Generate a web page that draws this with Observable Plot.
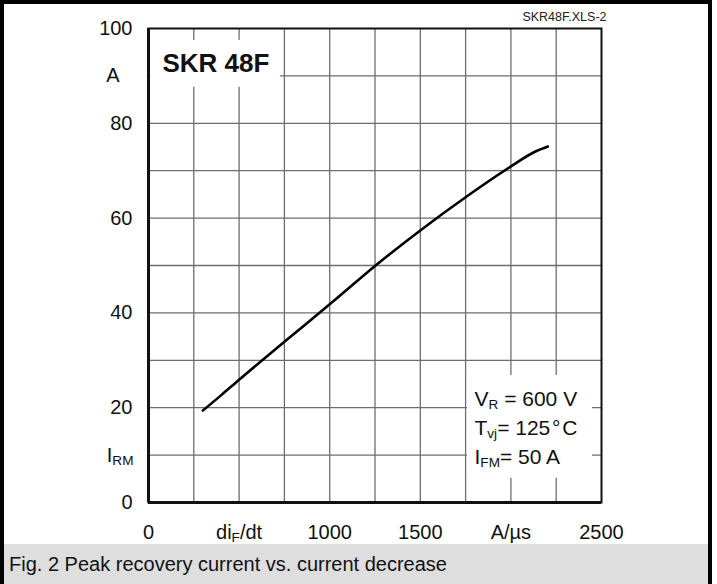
<!DOCTYPE html>
<html>
<head>
<meta charset="utf-8">
<script src="https://cdn.jsdelivr.net/npm/d3@7"></script>
<script src="https://cdn.jsdelivr.net/npm/@observablehq/plot@0.6"></script>
<style>
  html, body { margin: 0; padding: 0; background: #fff; }
  #wrap { position: relative; width: 717px; height: 584px; overflow: hidden; background: #fff;
          font-family: "Liberation Sans", Arial, sans-serif; }
  #chart { position: absolute; left: 0; top: 0; }
  .bd { position: absolute; background: #000; z-index: 5; }
  #caption { position: absolute; left: 4px; top: 544px; width: 704px; height: 40px; background: #dedede;
             font-size: 20px; line-height: 40px; color: #111; padding-left: 5px; box-sizing: border-box; }
</style>
</head>
<body>
<div id="wrap">
  <div id="chart"></div>
  <div id="caption">Fig. 2 Peak recovery current vs. current decrease</div>
  <div class="bd" style="left:0;top:0;width:4px;height:584px"></div>
  <div class="bd" style="left:0;top:0;width:712px;height:4px"></div>
  <div class="bd" style="left:708px;top:0;width:4px;height:584px"></div>
</div>
<script>
// ---- data ----
const diF = [300, 400, 500, 750, 1000, 1250, 1500, 1750, 2000, 2127, 2204];   // A/µs
const irm = [19.4, 22.6, 25.9, 33.9, 41.8, 49.9, 57.4, 64.4, 70.9, 73.9, 75.1]; // A

const xTicks = [0, 500, 1000, 1500, 2000, 2500];
const xTickLabels = ["0", "di{F}/dt", "1000", "1500", "A/µs", "2500"];
const yTicks = [0, 20, 40, 60, 80, 100];
const xGrid = [250, 500, 750, 1000, 1250, 1500, 1750, 2000, 2250];
const yGrid = [10, 20, 30, 40, 50, 60, 70, 80, 90];

const deviceName = "SKR 48F";
const fileTag = "SKR48F.XLS-2";
const conditions = ["V{R} = 600 V", "T{vj}= 125\u200a°\u200aC", "I{FM}= 50 A"];

const curve = diF.map((v, i) => ({v, i: irm[i]}));

const chart = Plot.plot({
  width: 717,
  height: 544,
  marginLeft: 148,
  marginRight: 116,
  marginTop: 28,
  marginBottom: 42,
  x: {domain: [0, 2500]},
  y: {domain: [0, 100]},
  style: {fontFamily: "'Liberation Sans', Arial, sans-serif", fontSize: "20px", color: "#111", background: "#fff"},
  marks: [
    Plot.gridX(xGrid, {stroke: "#6e6e6e", strokeOpacity: 1, strokeWidth: 1.3}),
    Plot.gridY(yGrid, {stroke: "#6e6e6e", strokeOpacity: 1, strokeWidth: 1.3}),
    // white backing boxes of the annotations
    Plot.rect([0], {x1: 12, x2: 728, y1: 87.6, y2: 97.5, fill: "#fff"}),
    Plot.rect([0], {x1: 1760, x2: 2450, y1: 5.1, y2: 26.8, fill: "#fff"}),
    Plot.line(curve, {x: "v", y: "i", curve: "monotone-x", stroke: "#000", strokeWidth: 2.6}),
    Plot.frame({stroke: "#111", strokeWidth: 2}),
    Plot.ruleX([0], {stroke: "#111", strokeWidth: 3}),
    Plot.ruleY([0], {stroke: "#111", strokeWidth: 3}),
    Plot.text([deviceName], {x: 77, y: 92.5, text: d => d, textAnchor: "start", lineAnchor: "middle",
      fontSize: 26, fontWeight: "bold", fill: "#111"}),
    Plot.text([fileTag], {frameAnchor: "top-right", text: d => d, textAnchor: "end", lineAnchor: "bottom",
      dx: 5, dy: -7.5, fontSize: 12.5, fill: "#222"}),
    Plot.text(conditions, {x: 1799, y: (d, k) => [21.8, 15.7, 9.6][k], text: d => d, textAnchor: "start",
      lineAnchor: "middle", fontSize: 21, fill: "#111"}),
    Plot.axisY(yTicks, {tickSize: 0, tickPadding: 16, label: null}),
    Plot.axisY([10], {tickSize: 0, tickPadding: 15, tickFormat: () => "I{RM}", label: null}),
    Plot.axisY([90], {tickSize: 0, tickPadding: 29, tickFormat: () => "A", label: null}),
    Plot.axisX(xTicks, {tickSize: 0, tickPadding: 22, label: null,
      tickFormat: d => xTickLabels[xTicks.indexOf(d)]})
  ]
});

// turn "X{sub}" markers into real subscripts
d3.select(chart).selectAll("text").each(function () {
  const el = this;
  if (el.querySelector("tspan")) return;
  const s = el.textContent;
  if (!s || s.indexOf("{") < 0) return;
  const fs = parseFloat(getComputedStyle(el).fontSize) || 20;
  el.textContent = "";
  const parts = s.split(/(\{[^}]*\})/).filter(p => p.length);
  let shifted = false;
  const shift = fs * 0.18;
  parts.forEach(p => {
    const t = document.createElementNS("http://www.w3.org/2000/svg", "tspan");
    if (p.startsWith("{")) {
      t.textContent = p.slice(1, -1);
      t.setAttribute("font-size", (fs * 0.68).toFixed(1));
      t.setAttribute("dy", shift.toFixed(1));
      shifted = true;
    } else {
      t.textContent = p;
      if (shifted) { t.setAttribute("dy", (-shift).toFixed(1)); shifted = false; }
    }
    el.appendChild(t);
  });
});

document.getElementById("chart").appendChild(chart);
</script>
</body>
</html>
